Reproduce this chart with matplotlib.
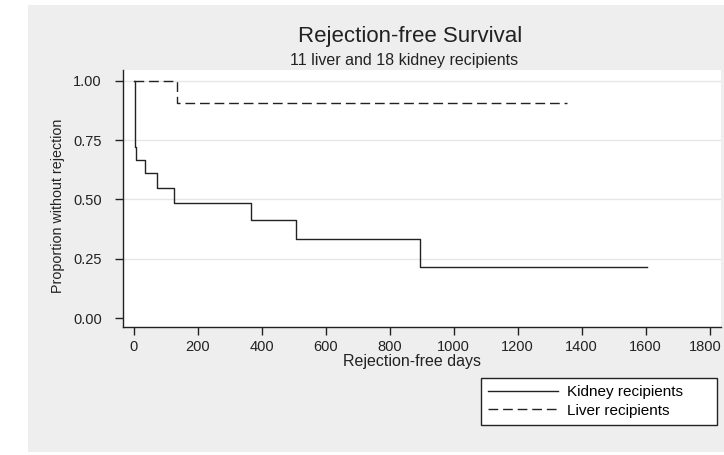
import matplotlib
matplotlib.use("Agg")
import matplotlib.pyplot as plt
from matplotlib.patches import Rectangle
from matplotlib.transforms import ScaledTranslation

# Data (Kaplan-Meier step estimates)
kidney_days = [0, 4, 7, 35, 72, 127, 366, 507, 895, 1604]
kidney_surv = [1.0, 0.722, 0.667, 0.611, 0.548, 0.484, 0.414, 0.334, 0.217, 0.217]
liver_days = [0, 137, 1354]
liver_surv = [1.0, 0.905, 0.905]

x_ticks = [0, 200, 400, 600, 800, 1000, 1200, 1400, 1600, 1800]
y_ticks = [0.00, 0.25, 0.50, 0.75, 1.00]
y_tick_labels = ["0.00", "0.25", "0.50", "0.75", "1.00"]

title = "Rejection-free Survival"
subtitle = "11 liver and 18 kidney recipients"
xlabel = "Rejection-free days"
ylabel = "Proportion without rejection"
series_labels = ["Kidney recipients", "Liver recipients"]

plt.rcParams['font.family'] = ['Liberation Sans', 'DejaVu Sans']

W, H = 724, 455
fig = plt.figure(figsize=(W / 100, H / 100), dpi=100, facecolor="white")

def fx(px):
    return px / W

def fy(py):
    return 1 - py / H

# gray graph region
bg = Rectangle((fx(28), fy(452)), fx(724) - fx(28), fy(5) - fy(452),
               transform=fig.transFigure, facecolor="#eeeeee",
               edgecolor="none", zorder=-10)
fig.patches.append(bg)

ax = fig.add_axes([fx(122.7), fy(327.3), fx(720.7) - fx(122.7), fy(70) - fy(327.3)])
ax.set_zorder(1)
ax.set_facecolor("white")

line_color = "#222222"
ax.plot(kidney_days, kidney_surv, drawstyle="steps-post", color=line_color, lw=1.0,
        label=series_labels[0])
ax.plot(liver_days, liver_surv, drawstyle="steps-post", color=line_color, lw=1.0,
        linestyle=(0, (7, 3.5)), label=series_labels[1])

ax.set_xlim(-33.75, 1835)
ax.set_ylim(-0.038, 1.045)
ax.set_xticks(x_ticks)
ax.set_yticks(y_ticks)
ax.set_yticklabels(y_tick_labels)

for y in y_ticks[1:]:
    ax.axhline(y, color="#e6e6e6", lw=1.0, zorder=0)

for s in ["top", "right"]:
    ax.spines[s].set_visible(False)
for s in ["left", "bottom"]:
    ax.spines[s].set_color("#222222")
    ax.spines[s].set_linewidth(1.0)

ax.tick_params(axis="both", direction="out", length=6, width=1.0, color="#222222",
               labelsize=10.5, labelcolor="#222222")
ax.tick_params(axis="y", pad=9)
ax.tick_params(axis="x", pad=3.5)

# keep the last x tick label inside the image
last = ax.get_xticklabels()[-1]
last.set_transform(last.get_transform() + ScaledTranslation(-4 / 100, 0, fig.dpi_scale_trans))

fig.text(fx(410), fy(42.3), title, ha="center", va="baseline", fontsize=16, color="#222222")
fig.text(fx(404), fy(65), subtitle, ha="center", va="baseline", fontsize=11.5, color="#222222")
fig.text(fx(411.7), fy(365.7), xlabel, ha="center", va="baseline", fontsize=11.5, color="#222222")
fig.text(fx(58), fy(206), ylabel, ha="center", va="center", rotation=90, fontsize=10.3,
         color="#222222")

handles, labels = ax.get_legend_handles_labels()
leg = fig.legend(handles, labels, loc="upper left",
                 bbox_to_anchor=(fx(480.7), fy(430), fx(716.7) - fx(480.7), fy(378.3) - fy(430)),
                 mode="expand", borderaxespad=0, fontsize=11, handlelength=4.6,
                 handletextpad=0.6, borderpad=0.45, labelspacing=0.3,
                 fancybox=False, framealpha=1, edgecolor="#222222")
leg.get_frame().set_linewidth(1.0)
leg.set_zorder(2)

fig.savefig("out.png", dpi=100, facecolor="white")
